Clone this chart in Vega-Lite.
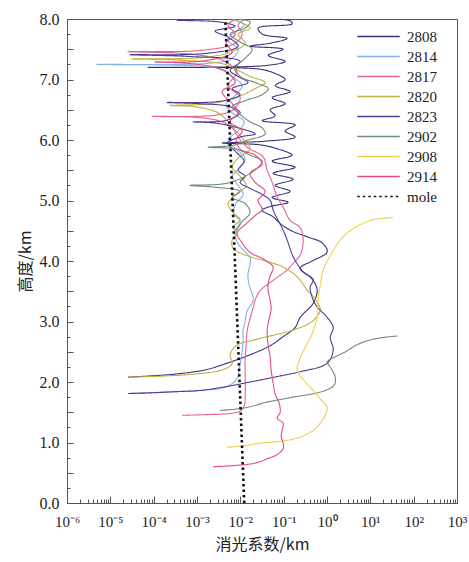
{
"$schema": "https://vega.github.io/schema/vega-lite/v6.json",
"width": 390, "height": 484,
"autosize": {"type": "none"},
"padding": {"left": 67, "top": 19, "right": 12, "bottom": 59},
"background": "white",
"config": {"view": {"stroke": "#555", "strokeWidth": 1}, "font": "Liberation Serif"},
"data": {"values": [
{"s":"2808","h":2.08,"x":2.56e-5},{"s":"2808","h":2.10,"x":8.25e-5},{"s":"2808","h":2.13,"x":3.12e-4},{"s":"2808","h":2.20,"x":1.54e-3},{"s":"2808","h":2.30,"x":4.46e-3},{"s":"2808","h":2.45,"x":0.0168},{"s":"2808","h":2.60,"x":0.0488},{"s":"2808","h":2.75,"x":0.0973},{"s":"2808","h":2.90,"x":0.184},{"s":"2808","h":3.07,"x":0.241},{"s":"2808","h":3.30,"x":0.48},{"s":"2808","h":3.52,"x":0.594},{"s":"2808","h":3.70,"x":0.455},{"s":"2808","h":3.88,"x":0.241},{"s":"2808","h":4.00,"x":0.455},{"s":"2808","h":4.15,"x":1.01},{"s":"2808","h":4.30,"x":0.775},{"s":"2808","h":4.40,"x":0.349},{"s":"2808","h":4.51,"x":0.141},{"s":"2808","h":4.62,"x":0.083},{"s":"2808","h":4.73,"x":0.0572},{"s":"2808","h":4.84,"x":0.0319},{"s":"2808","h":4.90,"x":0.0488},{"s":"2808","h":4.97,"x":0.127},{"s":"2808","h":5.05,"x":0.0543},{"s":"2808","h":5.15,"x":0.141},{"s":"2808","h":5.25,"x":0.0636},{"s":"2808","h":5.35,"x":0.166},{"s":"2808","h":5.45,"x":0.0572},{"s":"2808","h":5.55,"x":0.184},{"s":"2808","h":5.65,"x":0.0543},{"s":"2808","h":5.75,"x":0.157},{"s":"2808","h":5.85,"x":0.0747},{"s":"2808","h":5.92,"x":0.0287},{"s":"2808","h":5.95,"x":0.0038},{"s":"2808","h":5.98,"x":0.0374},{"s":"2808","h":6.05,"x":0.184},{"s":"2808","h":6.15,"x":0.108},{"s":"2808","h":6.25,"x":0.184},{"s":"2808","h":6.32,"x":0.0319},{"s":"2808","h":6.40,"x":0.0636},{"s":"2808","h":6.50,"x":0.0488},{"s":"2808","h":6.60,"x":0.108},{"s":"2808","h":6.70,"x":0.0543},{"s":"2808","h":6.80,"x":0.141},{"s":"2808","h":6.90,"x":0.0636},{"s":"2808","h":7.00,"x":0.108},{"s":"2808","h":7.10,"x":0.0636},{"s":"2808","h":7.17,"x":0.0287},{"s":"2808","h":7.20,"x":7.42e-5},{"s":"2808","h":7.23,"x":0.0374},{"s":"2808","h":7.30,"x":0.108},{"s":"2808","h":7.40,"x":0.0439},{"s":"2808","h":7.50,"x":0.0973},{"s":"2808","h":7.55,"x":0.0168},{"s":"2808","h":7.60,"x":0.0488},{"s":"2808","h":7.68,"x":0.120},{"s":"2808","h":7.75,"x":0.0319},{"s":"2808","h":7.85,"x":0.0258},{"s":"2808","h":7.92,"x":0.157},{"s":"2808","h":7.97,"x":0.141},{"s":"2808","h":8.00,"x":0.0319},

{"s":"2814","h":1.81,"x":2.56e-5},{"s":"2814","h":1.83,"x":1.40e-4},{"s":"2814","h":1.86,"x":1.18e-3},{"s":"2814","h":1.90,"x":3.8e-3},{"s":"2814","h":1.95,"x":5.81e-3},{"s":"2814","h":2.02,"x":7.58e-3},{"s":"2814","h":2.10,"x":8.89e-3},{"s":"2814","h":2.30,"x":9.89e-3},{"s":"2814","h":2.50,"x":0.011},{"s":"2814","h":2.70,"x":0.0116},{"s":"2814","h":2.85,"x":0.0116},{"s":"2814","h":3.00,"x":0.0129},{"s":"2814","h":3.18,"x":0.0144},{"s":"2814","h":3.30,"x":0.0187},{"s":"2814","h":3.40,"x":0.0198},{"s":"2814","h":3.55,"x":0.0168},{"s":"2814","h":3.70,"x":0.0151},{"s":"2814","h":3.80,"x":0.0151},{"s":"2814","h":3.95,"x":0.0168},{"s":"2814","h":4.06,"x":0.0168},{"s":"2814","h":4.20,"x":0.011},{"s":"2814","h":4.35,"x":0.0080},{"s":"2814","h":4.50,"x":0.0076},{"s":"2814","h":4.65,"x":0.0099},{"s":"2814","h":4.80,"x":0.0068},{"s":"2814","h":4.95,"x":0.0080},{"s":"2814","h":5.10,"x":0.0116},{"s":"2814","h":5.25,"x":0.0089},{"s":"2814","h":5.40,"x":0.0065},{"s":"2814","h":5.55,"x":0.0099},{"s":"2814","h":5.70,"x":0.0129},{"s":"2814","h":5.85,"x":0.0080},{"s":"2814","h":6.00,"x":0.0052},{"s":"2814","h":6.15,"x":0.0089},{"s":"2814","h":6.30,"x":0.0122},{"s":"2814","h":6.45,"x":0.0065},{"s":"2814","h":6.60,"x":0.0047},{"s":"2814","h":6.75,"x":0.0080},{"s":"2814","h":6.90,"x":0.011},{"s":"2814","h":7.05,"x":0.0065},{"s":"2814","h":7.15,"x":0.00446},{"s":"2814","h":7.22,"x":0.00118},{"s":"2814","h":7.25,"x":4.93e-6},{"s":"2814","h":7.27,"x":0.00201},{"s":"2814","h":7.35,"x":0.0065},{"s":"2814","h":7.50,"x":0.0089},{"s":"2814","h":7.65,"x":0.0052},{"s":"2814","h":7.80,"x":0.0080},{"s":"2814","h":7.90,"x":0.0122},{"s":"2814","h":8.00,"x":0.0065},

{"s":"2817","h":1.45,"x":4.53e-4},{"s":"2817","h":1.46,"x":1.54e-3},{"s":"2817","h":1.48,"x":5.81e-3},{"s":"2817","h":1.52,"x":9.89e-3},{"s":"2817","h":1.60,"x":0.0122},{"s":"2817","h":1.75,"x":0.0129},{"s":"2817","h":2.10,"x":0.0129},{"s":"2817","h":2.41,"x":0.0129},{"s":"2817","h":2.60,"x":0.0136},{"s":"2817","h":2.85,"x":0.0144},{"s":"2817","h":3.05,"x":0.0168},{"s":"2817","h":3.23,"x":0.0198},{"s":"2817","h":3.40,"x":0.0232},{"s":"2817","h":3.51,"x":0.0287},{"s":"2817","h":3.62,"x":0.0439},{"s":"2817","h":3.73,"x":0.0707},{"s":"2817","h":3.85,"x":0.120},{"s":"2817","h":3.96,"x":0.166},{"s":"2817","h":4.10,"x":0.241},{"s":"2817","h":4.34,"x":0.282},{"s":"2817","h":4.55,"x":0.241},{"s":"2817","h":4.67,"x":0.141},{"s":"2817","h":4.89,"x":0.0973},{"s":"2817","h":5.06,"x":0.0707},{"s":"2817","h":5.30,"x":0.0543},{"s":"2817","h":5.50,"x":0.0416},{"s":"2817","h":5.72,"x":0.0336},{"s":"2817","h":5.88,"x":0.0144},{"s":"2817","h":6.05,"x":0.0089},{"s":"2817","h":6.20,"x":0.0065},{"s":"2817","h":6.30,"x":0.0038},{"s":"2817","h":6.37,"x":0.00118},{"s":"2817","h":6.39,"x":9.18e-5},{"s":"2817","h":6.41,"x":0.00262},{"s":"2817","h":6.50,"x":0.0068},{"s":"2817","h":6.70,"x":0.0099},{"s":"2817","h":6.90,"x":0.0052},{"s":"2817","h":7.10,"x":0.0080},{"s":"2817","h":7.30,"x":0.00446},{"s":"2817","h":7.42,"x":6.93e-4},{"s":"2817","h":7.46,"x":2.56e-5},{"s":"2817","h":7.48,"x":0.00118},{"s":"2817","h":7.60,"x":0.0076},{"s":"2817","h":7.75,"x":0.011},{"s":"2817","h":7.90,"x":0.0089},{"s":"2817","h":8.00,"x":0.0129},

{"s":"2820","h":2.08,"x":2.56e-5},{"s":"2820","h":2.10,"x":1.83e-4},{"s":"2820","h":2.14,"x":1.18e-3},{"s":"2820","h":2.20,"x":3.8e-3},{"s":"2820","h":2.30,"x":6.46e-3},{"s":"2820","h":2.45,"x":5.81e-3},{"s":"2820","h":2.60,"x":0.0080},{"s":"2820","h":2.70,"x":0.022},{"s":"2820","h":2.78,"x":0.0636},{"s":"2820","h":2.86,"x":0.166},{"s":"2820","h":3.00,"x":0.455},{"s":"2820","h":3.19,"x":0.697},{"s":"2820","h":3.35,"x":0.563},{"s":"2820","h":3.52,"x":0.349},{"s":"2820","h":3.74,"x":0.205},{"s":"2820","h":3.90,"x":0.0973},{"s":"2820","h":3.98,"x":0.0488},{"s":"2820","h":4.07,"x":0.0168},{"s":"2820","h":4.21,"x":0.0068},{"s":"2820","h":4.35,"x":0.0065},{"s":"2820","h":4.46,"x":0.0084},{"s":"2820","h":4.56,"x":0.0068},{"s":"2820","h":4.68,"x":0.0099},{"s":"2820","h":4.80,"x":0.0068},{"s":"2820","h":4.95,"x":0.0052},{"s":"2820","h":5.10,"x":0.0080},{"s":"2820","h":5.25,"x":0.0136},{"s":"2820","h":5.40,"x":0.0099},{"s":"2820","h":5.55,"x":0.0065},{"s":"2820","h":5.70,"x":0.0089},{"s":"2820","h":5.85,"x":0.0168},{"s":"2820","h":6.00,"x":0.0122},{"s":"2820","h":6.15,"x":0.0080},{"s":"2820","h":6.30,"x":0.0052},{"s":"2820","h":6.45,"x":0.00307},{"s":"2820","h":6.55,"x":9.03e-4},{"s":"2820","h":6.57,"x":2.39e-4},{"s":"2820","h":6.60,"x":0.00201},{"s":"2820","h":6.70,"x":0.0080},{"s":"2820","h":6.85,"x":0.022},{"s":"2820","h":6.95,"x":0.0374},{"s":"2820","h":7.05,"x":0.0168},{"s":"2820","h":7.15,"x":0.0089},{"s":"2820","h":7.25,"x":0.00446},{"s":"2820","h":7.32,"x":4.07e-4},{"s":"2820","h":7.34,"x":3.17e-5},{"s":"2820","h":7.36,"x":0.00118},{"s":"2820","h":7.45,"x":0.0058},{"s":"2820","h":7.60,"x":0.0129},{"s":"2820","h":7.75,"x":0.0089},{"s":"2820","h":7.85,"x":0.0168},{"s":"2820","h":7.95,"x":0.0099},{"s":"2820","h":8.00,"x":0.0068},

{"s":"2823","h":1.81,"x":2.56e-5},{"s":"2823","h":1.82,"x":8.25e-5},{"s":"2823","h":1.84,"x":3.12e-4},{"s":"2823","h":1.86,"x":1.18e-3},{"s":"2823","h":1.92,"x":4.46e-3},{"s":"2823","h":2.00,"x":0.0168},{"s":"2823","h":2.10,"x":0.083},{"s":"2823","h":2.17,"x":0.241},{"s":"2823","h":2.31,"x":1.01},{"s":"2823","h":2.53,"x":1.39},{"s":"2823","h":2.74,"x":1.19},{"s":"2823","h":2.90,"x":1.39},{"s":"2823","h":3.07,"x":1.01},{"s":"2823","h":3.24,"x":0.594},{"s":"2823","h":3.40,"x":0.455},{"s":"2823","h":3.57,"x":0.409},{"s":"2823","h":3.69,"x":0.48},{"s":"2823","h":3.82,"x":0.282},{"s":"2823","h":3.88,"x":0.241},{"s":"2823","h":4.07,"x":0.166},{"s":"2823","h":4.35,"x":0.120},{"s":"2823","h":4.51,"x":0.0973},{"s":"2823","h":4.84,"x":0.0572},{"s":"2823","h":5.00,"x":0.0488},{"s":"2823","h":5.10,"x":0.0319},{"s":"2823","h":5.20,"x":0.0168},{"s":"2823","h":5.30,"x":0.0099},{"s":"2823","h":5.40,"x":0.0129},{"s":"2823","h":5.50,"x":0.0089},{"s":"2823","h":5.65,"x":0.0122},{"s":"2823","h":5.80,"x":0.0080},{"s":"2823","h":5.95,"x":0.0052},{"s":"2823","h":6.05,"x":0.0099},{"s":"2823","h":6.10,"x":0.022},{"s":"2823","h":6.20,"x":0.0089},{"s":"2823","h":6.28,"x":0.00262},{"s":"2823","h":6.30,"x":8.1e-4},{"s":"2823","h":6.32,"x":0.00446},{"s":"2823","h":6.45,"x":0.0099},{"s":"2823","h":6.55,"x":0.0058},{"s":"2823","h":6.60,"x":0.00118},{"s":"2823","h":6.62,"x":2.04e-4},{"s":"2823","h":6.64,"x":0.00342},{"s":"2823","h":6.75,"x":0.0099},{"s":"2823","h":6.85,"x":0.0065},{"s":"2823","h":6.95,"x":0.0151},{"s":"2823","h":7.05,"x":0.0089},{"s":"2823","h":7.15,"x":0.0058},{"s":"2823","h":7.30,"x":0.0099},{"s":"2823","h":7.38,"x":6.9e-4},{"s":"2823","h":7.41,"x":2.85e-5},{"s":"2823","h":7.43,"x":0.00154},{"s":"2823","h":7.55,"x":0.0089},{"s":"2823","h":7.70,"x":0.0052},{"s":"2823","h":7.80,"x":0.00262},{"s":"2823","h":7.88,"x":0.0076},{"s":"2823","h":7.95,"x":0.00342},{"s":"2823","h":7.98,"x":3.47e-4},{"s":"2823","h":8.00,"x":0.00118},

{"s":"2902","p":"a","h":1.53,"x":3.42e-3},{"s":"2902","p":"a","h":1.56,"x":9.89e-3},{"s":"2902","p":"a","h":1.60,"x":0.0187},{"s":"2902","p":"a","h":1.66,"x":0.0374},{"s":"2902","p":"a","h":1.75,"x":0.166},{"s":"2902","p":"a","h":1.82,"x":0.594},{"s":"2902","p":"a","h":1.88,"x":1.066},{"s":"2902","p":"a","h":1.95,"x":1.47},{"s":"2902","p":"a","h":2.08,"x":1.55},{"s":"2902","p":"a","h":2.25,"x":1.186},{"s":"2902","p":"a","h":2.33,"x":1.01},{"s":"2902","p":"a","h":2.40,"x":1.39},{"s":"2902","p":"a","h":2.48,"x":2.37},{"s":"2902","p":"a","h":2.64,"x":5.84},{"s":"2902","p":"a","h":2.72,"x":14.4},{"s":"2902","p":"a","h":2.76,"x":41.8},
{"s":"2902","p":"b","h":4.50,"x":0.0080},{"s":"2902","p":"b","h":4.65,"x":0.011},{"s":"2902","p":"b","h":4.80,"x":0.0168},{"s":"2902","p":"b","h":4.95,"x":0.0129},{"s":"2902","p":"b","h":5.05,"x":0.0065},{"s":"2902","p":"b","h":5.15,"x":0.0099},{"s":"2902","p":"b","h":5.22,"x":0.00262},{"s":"2902","p":"b","h":5.25,"x":6.93e-4},{"s":"2902","p":"b","h":5.28,"x":0.00446},{"s":"2902","p":"b","h":5.40,"x":0.0129},{"s":"2902","p":"b","h":5.55,"x":0.0258},{"s":"2902","p":"b","h":5.65,"x":0.0319},{"s":"2902","p":"b","h":5.75,"x":0.0168},{"s":"2902","p":"b","h":5.85,"x":0.0080},{"s":"2902","p":"b","h":5.88,"x":0.0018},{"s":"2902","p":"b","h":5.91,"x":0.0065},{"s":"2902","p":"b","h":6.00,"x":0.0151},{"s":"2902","p":"b","h":6.10,"x":0.0374},{"s":"2902","p":"b","h":6.20,"x":0.0319},{"s":"2902","p":"b","h":6.30,"x":0.0168},{"s":"2902","p":"b","h":6.45,"x":0.0089},{"s":"2902","p":"b","h":6.55,"x":0.0065},{"s":"2902","p":"b","h":6.65,"x":0.0129},{"s":"2902","p":"b","h":6.75,"x":0.0319},{"s":"2902","p":"b","h":6.85,"x":0.0439},{"s":"2902","p":"b","h":6.95,"x":0.022},{"s":"2902","p":"b","h":7.05,"x":0.0099},{"s":"2902","p":"b","h":7.20,"x":0.0080},{"s":"2902","p":"b","h":7.35,"x":0.0129},{"s":"2902","p":"b","h":7.50,"x":0.0187},{"s":"2902","p":"b","h":7.62,"x":0.0099},{"s":"2902","p":"b","h":7.75,"x":0.0058},{"s":"2902","p":"b","h":7.85,"x":0.0129},{"s":"2902","p":"b","h":7.95,"x":0.0168},{"s":"2902","p":"b","h":8.00,"x":0.0089},

{"s":"2908","h":0.92,"x":4.96e-3},{"s":"2908","h":0.95,"x":0.0129},{"s":"2908","h":0.99,"x":0.0287},{"s":"2908","h":1.03,"x":0.108},{"s":"2908","h":1.09,"x":0.241},{"s":"2908","h":1.20,"x":0.48},{"s":"2908","h":1.32,"x":0.697},{"s":"2908","h":1.45,"x":0.908},{"s":"2908","h":1.58,"x":1.01},{"s":"2908","h":1.72,"x":0.697},{"s":"2908","h":1.86,"x":0.48},{"s":"2908","h":2.00,"x":0.314},{"s":"2908","h":2.20,"x":0.205},{"s":"2908","h":2.40,"x":0.241},{"s":"2908","h":2.57,"x":0.314},{"s":"2908","h":2.80,"x":0.455},{"s":"2908","h":3.07,"x":0.594},{"s":"2908","h":3.36,"x":0.626},{"s":"2908","h":3.60,"x":0.697},{"s":"2908","h":3.85,"x":0.817},{"s":"2908","h":4.00,"x":1.01},{"s":"2908","h":4.17,"x":1.39},{"s":"2908","h":4.35,"x":2.02},{"s":"2908","h":4.50,"x":3.43},{"s":"2908","h":4.60,"x":5.84},{"s":"2908","h":4.67,"x":9.95},{"s":"2908","h":4.70,"x":16.9},{"s":"2908","h":4.72,"x":33.8},

{"s":"2914","h":0.60,"x":2.35e-3},{"s":"2914","h":0.62,"x":7.58e-3},{"s":"2914","h":0.66,"x":0.022},{"s":"2914","h":0.73,"x":0.0416},{"s":"2914","h":0.80,"x":0.0707},{"s":"2914","h":0.90,"x":0.0973},{"s":"2914","h":0.99,"x":0.0973},{"s":"2914","h":1.10,"x":0.0875},{"s":"2914","h":1.20,"x":0.0923},{"s":"2914","h":1.32,"x":0.0973},{"s":"2914","h":1.40,"x":0.0707},{"s":"2914","h":1.50,"x":0.083},{"s":"2914","h":1.65,"x":0.0787},{"s":"2914","h":1.80,"x":0.0636},{"s":"2914","h":1.98,"x":0.0572},{"s":"2914","h":2.20,"x":0.0514},{"s":"2914","h":2.41,"x":0.0488},{"s":"2914","h":2.60,"x":0.0439},{"s":"2914","h":2.85,"x":0.0416},{"s":"2914","h":3.05,"x":0.0463},{"s":"2914","h":3.20,"x":0.0514},{"s":"2914","h":3.35,"x":0.0488},{"s":"2914","h":3.50,"x":0.0439},{"s":"2914","h":3.63,"x":0.0439},{"s":"2914","h":3.75,"x":0.0488},{"s":"2914","h":3.90,"x":0.0572},{"s":"2914","h":3.98,"x":0.0439},{"s":"2914","h":4.06,"x":0.0287},{"s":"2914","h":4.14,"x":0.0168},{"s":"2914","h":4.30,"x":0.011},{"s":"2914","h":4.46,"x":0.0084},{"s":"2914","h":4.60,"x":0.0129},{"s":"2914","h":4.75,"x":0.022},{"s":"2914","h":4.85,"x":0.0319},{"s":"2914","h":5.00,"x":0.0258},{"s":"2914","h":5.15,"x":0.0374},{"s":"2914","h":5.30,"x":0.022},{"s":"2914","h":5.45,"x":0.0168},{"s":"2914","h":5.60,"x":0.0319},{"s":"2914","h":5.75,"x":0.022},{"s":"2914","h":5.85,"x":0.0099},{"s":"2914","h":6.00,"x":0.0080},{"s":"2914","h":6.15,"x":0.011},{"s":"2914","h":6.30,"x":0.0058},{"s":"2914","h":6.45,"x":0.0089},{"s":"2914","h":6.60,"x":0.0065},{"s":"2914","h":6.80,"x":0.0038},{"s":"2914","h":6.95,"x":0.0076},{"s":"2914","h":7.10,"x":0.0052},{"s":"2914","h":7.20,"x":0.00262},{"s":"2914","h":7.27,"x":5.31e-4},{"s":"2914","h":7.29,"x":1.08e-4},{"s":"2914","h":7.31,"x":0.00154},{"s":"2914","h":7.45,"x":0.0065},{"s":"2914","h":7.60,"x":0.0047},{"s":"2914","h":7.75,"x":0.0076},{"s":"2914","h":7.90,"x":0.0052},{"s":"2914","h":8.00,"x":0.0080},

{"s":"mole","h":0,"x":0.0123},{"s":"mole","h":2,"x":0.0096},{"s":"mole","h":4,"x":0.0075},{"s":"mole","h":6,"x":0.0058},{"s":"mole","h":8,"x":0.0045}
]},
"encoding": {
  "x": {"field": "x", "type": "quantitative",
    "scale": {"type": "log", "domain": [1e-6, 1000]},
    "axis": {"title": "消光系数/km", "titleFont": "Noto Sans CJK SC", "titleFontSize": 16, "titleFontWeight": "normal", "titleColor": "#222", "titlePadding": 4,
      "grid": false, "labelFont": "Liberation Serif", "labelFontSize": 15, "labelColor": "#222", "labelFlush": false, "labelPadding": 18, "labelOverlap": false,
      "domainColor": "#555", "tickColor": "#555",
      "tickSize": {"condition": {"test": "abs(log(datum.value)/LN10 - round(log(datum.value)/LN10)) < 0.01", "value": -7}, "value": -4},
      "values": [1e-6,2e-6,3e-6,4e-6,5e-6,6e-6,7e-6,8e-6,9e-6,1e-5,2e-5,3e-5,4e-5,5e-5,6e-5,7e-5,8e-5,9e-5,1e-4,2e-4,3e-4,4e-4,5e-4,6e-4,7e-4,8e-4,9e-4,1e-3,2e-3,3e-3,4e-3,5e-3,6e-3,7e-3,8e-3,9e-3,0.01,0.02,0.03,0.04,0.05,0.06,0.07,0.08,0.09,0.1,0.2,0.3,0.4,0.5,0.6,0.7,0.8,0.9,1,2,3,4,5,6,7,8,9,10,20,30,40,50,60,70,80,90,100,200,300,400,500,600,700,800,900,1000],
      "labelExpr": "abs(log(datum.value)/LN10 - round(log(datum.value)/LN10)) < 0.01 ? ['10⁻⁶','10⁻⁵','10⁻⁴','10⁻³','10⁻²','10⁻¹','10⁰','10¹','10²','10³'][round(log(datum.value)/LN10)+6] : ''"}},
  "y": {"field": "h", "type": "quantitative",
    "scale": {"domain": [0, 8], "nice": false, "zero": false},
    "axis": {"title": "高度/km", "titleFont": "Noto Sans CJK SC", "titleFontSize": 16, "titleFontWeight": "normal", "titleColor": "#222", "titlePadding": 6,
      "grid": false, "labelFont": "Liberation Serif", "labelFontSize": 16, "labelColor": "#222", "labelFlush": false, "labelPadding": 14,
      "domainColor": "#555", "tickColor": "#555",
      "tickSize": {"condition": {"test": "datum.value % 0.5 == 0", "value": -6}, "value": -3},
      "values": [0,0.25,0.5,0.75,1,1.25,1.5,1.75,2,2.25,2.5,2.75,3,3.25,3.5,3.75,4,4.25,4.5,4.75,5,5.25,5.5,5.75,6,6.25,6.5,6.75,7,7.25,7.5,7.75,8],
      "labelExpr": "datum.value % 1 == 0 ? format(datum.value, '.1f') : ''"}},
  "color": {"field": "s", "type": "nominal",
    "scale": {"domain": ["2808","2814","2817","2820","2823","2902","2908","2914","mole"],
              "range": ["#3b2f7a","#7fb2e5","#e8609a","#c0b040","#4b3c98","#6f8a78","#f2d04a","#e64a7e","#111111"]},
    "legend": {"title": null, "orient": "none", "legendX": 300, "legendY": 6, "symbolType": "M-2,0H2", "symbolSize": 450, "symbolStrokeWidth": 1.5,
      "labelFont": "Liberation Serif", "labelFontSize": 15, "labelColor": "#222", "rowPadding": 0, "labelOffset": 17, "padding": 0}},
  "strokeDash": {"field": "s", "type": "nominal",
    "scale": {"domain": ["2808","2814","2817","2820","2823","2902","2908","2914","mole"],
              "range": [[1,0],[1,0],[1,0],[1,0],[1,0],[1,0],[1,0],[1,0],[2.5,3]]},
    "legend": {"title": null, "orient": "none", "legendX": 300, "legendY": 6, "symbolType": "M-2,0H2", "symbolSize": 450, "symbolStrokeWidth": 1.5,
      "labelFont": "Liberation Serif", "labelFontSize": 15, "labelColor": "#222", "rowPadding": 0, "labelOffset": 17, "padding": 0}},
  "detail": {"field": "p"},
  "order": {"field": "h", "type": "quantitative"}
},
"layer": [
  {"transform": [{"filter": "datum.s != 'mole'"}],
   "mark": {"type": "line", "interpolate": "catmull-rom", "strokeWidth": 1.1, "clip": true}},
  {"transform": [{"filter": "datum.s == 'mole'"}],
   "mark": {"type": "line", "strokeWidth": 2.6, "clip": true}}
]
}
